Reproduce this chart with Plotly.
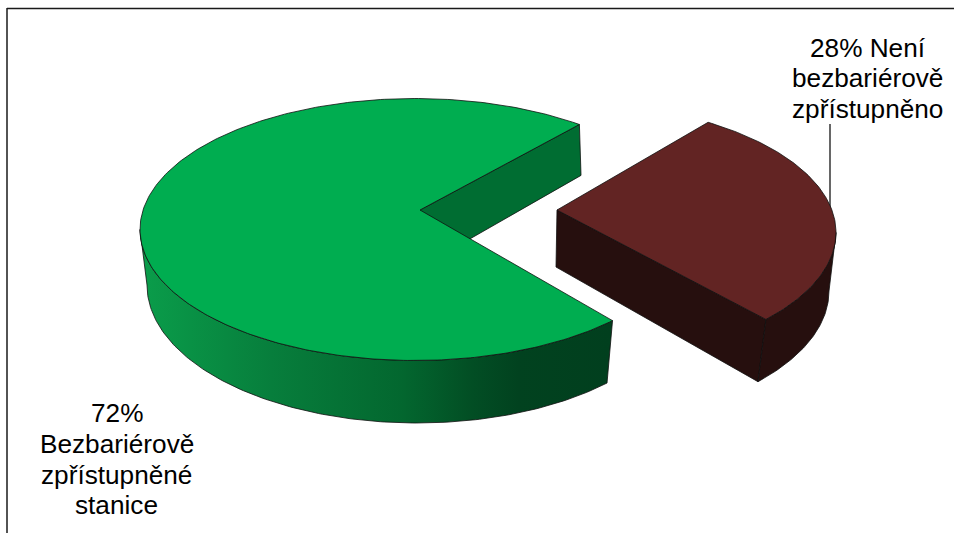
import numpy as np
import plotly.graph_objects as go

# Share of stations by barrier-free access
shares = [72, 28]
labels = [
    ["72%", "Bezbariérově", "zpřístupněné", "stanice"],
    ["28% Není", "bezbariérově", "zpřístupněno"],
]

# Page-space drawing parameters for the tilted pie
W, H = 954, 533
OUTLINE = "#101010"
GREEN_TOP, GREEN_INNER = "#00AD50", "#006D32"
RED_TOP, RED_SIDE = "#622423", "#260F0E"
GREEN_RAMP = [
    [0.00, "#0A9C4A"],
    [0.27, "#077E3C"],
    [0.55, "#03672F"],
    [0.70, "#024E24"],
    [0.80, "#01421F"],
    [1.00, "#013F1E"],
]


def ellipse(cx, cy, a, b, deg):
    t = np.radians(deg)
    return cx + a * np.cos(t), cy + b * np.sin(t)


def poly(fig, xs, ys, color, width=0.8, **extra):
    fig.add_trace(go.Scatter(
        x=np.r_[xs, xs[0]], y=np.r_[ys, ys[0]], mode="lines", fill="toself",
        fillcolor=color, line=dict(color=OUTLINE, width=width),
        hoverinfo="skip", showlegend=False, **extra))


fig = go.Figure()

# The 28% slice sets the gap in the 72% disc; perspective narrows it slightly
gap = 360 * shares[1] / sum(shares)
green_sweep = gap * 0.966
red_sweep = gap * 0.985
green_front, green_back = -4.6 + green_sweep / 2, -4.6 - green_sweep / 2
red_front, red_back = -7.9 + red_sweep / 2, -7.9 - red_sweep / 2
low_green_front, low_green_back = 3.4 + green_sweep / 2 * 0.86 + 0.0, 3.4 - green_sweep / 2 * 1.15

# Ellipses for the upper and lower rims of both pieces
g_top = (415, 229.5, 275, 131)
g_low = (417, 285, 270, 138)
r_top = (560, 232.5, 276, 130.6)
r_low = (555, 291, 274, 135)
g_apex, g_apex_low = (420, 210), (419, 268)
r_apex, r_apex_low = (557, 210), (556, 267)

# Green: wall inside the gap
bx, by = ellipse(*g_top, green_back)
lx, ly = ellipse(*g_low, low_green_back)
poly(fig, [g_apex[0], bx, lx, g_apex_low[0]], [g_apex[1], by, ly, g_apex_low[1]], GREEN_INNER)

# Green: curved outer wall, shaded left to right
rim = np.linspace(green_front, 180, 160)
low = np.linspace(low_green_front, 180, 160)
tx, ty = ellipse(*g_top, rim)
ux, uy = ellipse(*g_low, low)
fig.add_trace(go.Scatter(
    x=np.r_[tx, ux[::-1], tx[0]], y=np.r_[ty, uy[::-1], ty[0]], mode="lines",
    fill="toself", line=dict(color=OUTLINE, width=0.8),
    fillgradient=dict(type="horizontal", colorscale=GREEN_RAMP, start=145, stop=612),
    hoverinfo="skip", showlegend=False))

# Green: top face
arc = np.linspace(green_front, green_back + 360, 300)
ax, ay = ellipse(*g_top, arc)
poly(fig, np.r_[g_apex[0], ax], np.r_[g_apex[1], ay], GREEN_TOP)

# Red: wall along the front cut
fx, fy = ellipse(*r_top, red_front)
dx, dy = ellipse(*r_low, 42.2)
poly(fig, [r_apex[0], fx, dx, r_apex_low[0]], [r_apex[1], fy, dy, r_apex_low[1]], RED_SIDE)

# Red: curved outer wall
rim = np.linspace(red_front, 0, 60)
low = np.linspace(42.2, 0, 60)
tx, ty = ellipse(*r_top, rim)
ux, uy = ellipse(*r_low, low)
poly(fig, np.r_[tx, ux[::-1]], np.r_[ty, uy[::-1]], RED_SIDE)

# Leader line for the 28% label, tucked behind the red face
fig.add_trace(go.Scatter(x=[830, 830], y=[124, 215], mode="lines",
                         line=dict(color="#000000", width=1.2),
                         hoverinfo="skip", showlegend=False))

# Red: top face
arc = np.linspace(red_back, red_front, 120)
ax, ay = ellipse(*r_top, arc)
poly(fig, np.r_[r_apex[0], ax], np.r_[r_apex[1], ay], RED_TOP)

# Category labels, one line at a time for tight leading
LINE = 30.7
blocks = [(labels[0], 116.7, 422.3), (labels[1], 867.5, 56.7)]
annotations = []
for lines, x, first_baseline in blocks:
    for i, text in enumerate(lines):
        annotations.append(dict(
            x=x, y=first_baseline + i * LINE - 9, text=text, showarrow=False,
            xanchor="center", yanchor="middle", xref="x", yref="y",
            font=dict(family="Liberation Sans", size=26.2, color="#000000")))

fig.update_layout(
    width=W, height=H, margin=dict(l=0, r=0, t=0, b=0),
    paper_bgcolor="white", plot_bgcolor="white", showlegend=False,
    xaxis=dict(range=[0, W], visible=False, fixedrange=True),
    yaxis=dict(range=[H, 0], visible=False, fixedrange=True),
    annotations=annotations,
    # Chart frame: only the top and left edges fall inside the page
    shapes=[
        dict(type="line", x0=7, x1=W, y0=8.5, y1=8.5, line=dict(color="#1A1A1A", width=1.5)),
        dict(type="line", x0=7, x1=7, y0=8, y1=H, line=dict(color="#1A1A1A", width=1.5)),
    ],
)

fig.write_html("out.html", config=dict(displayModeBar=False))
